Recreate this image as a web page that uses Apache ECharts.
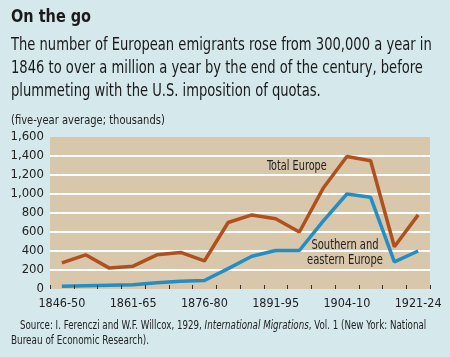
<!DOCTYPE html>
<html>
<head>
<meta charset="utf-8">
<script src="https://cdn.jsdelivr.net/npm/echarts@6/dist/echarts.min.js"></script>
<style>
html,body{margin:0;padding:0;background:#d5e8ec;}
#c{width:450px;height:357px;}
</style>
</head>
<body>
<div id="c"></div>
<script>
var categories = ['1846-50','1851-55','1856-60','1861-65','1866-70','1871-75','1876-80','1881-85','1886-90','1891-95','1896-1900','1901-05','1904-10','1911-15','1916-20','1921-24'];
var totalEurope = [275, 360, 220, 240, 360, 385, 295, 700, 780, 740, 600, 1060, 1395, 1350, 445, 780];
var southernEastern = [28, 35, 40, 45, 65, 82, 90, 215, 345, 405, 405, 715, 1000, 965, 285, 400];
var yTicks = [0, 200, 400, 600, 800, 1000, 1200, 1400, 1600];

var FONT = '"DejaVu Sans Condensed","DejaVu Sans",sans-serif';
var chart = echarts.init(document.getElementById('c'), null, {renderer:'canvas'});
var gridColors = yTicks.map(function(v, i){ return (i === 0 || i === yTicks.length - 1) ? 'rgba(0,0,0,0)' : '#ffffff'; });

chart.setOption({
  backgroundColor: '#d5e8ec',
  animation: false,
  grid: {left: 50, right: 20, top: 137, height: 152, show: true, backgroundColor: '#d9c7ab', borderWidth: 0},
  xAxis: {
    type: 'category', data: categories, boundaryGap: true, z: 10,
    axisLine: {show: false},
    axisTick: {show: true, inside: true, length: 4, interval: 0, lineStyle: {color: '#333', width: 1}},
    axisLabel: {interval: 0, color: '#222', fontFamily: FONT, fontSize: 12.5, margin: 8,
      formatter: function(v, i){ return (i % 3 === 0) ? v : ''; }},
    splitLine: {show: false}
  },
  yAxis: {
    type: 'value', min: yTicks[0], max: yTicks[yTicks.length-1], interval: 200,
    axisLine: {show: false}, axisTick: {show: false},
    axisLabel: {color: '#222', fontFamily: FONT, fontSize: 13, margin: 6,
      formatter: function(v){ return v.toLocaleString('en-US'); }},
    splitLine: {show: true, lineStyle: {color: gridColors, width: 2}}
  },
  series: [
    {type: 'line', name: 'Total Europe', data: totalEurope, symbol: 'none',
     lineStyle: {color: '#b0501e', width: 3.5}, z: 3},
    {type: 'line', name: 'Southern and eastern Europe', data: southernEastern, symbol: 'none',
     lineStyle: {color: '#228ec3', width: 3.5}, z: 4}
  ],
  graphic: [
    {type: 'text', x: 11, y: 8, scaleX: 0.87, style: {text: 'On the go', font: 'bold 18.5px ' + FONT, fill: '#1a1a1a', textAlign: 'left', textVerticalAlign: 'top'}},
    {type: 'text', x: 11, y: 34, scaleX: 0.833, style: {text: 'The number of European emigrants rose from 300,000 a year in\n1846 to over a million a year by the end of the century, before\nplummeting with the U.S. imposition of quotas.', font: '17.5px ' + FONT, fill: '#1a1a1a', lineHeight: 23, textAlign: 'left', textVerticalAlign: 'top'}},
    {type: 'text', x: 11, y: 114, scaleX: 0.885, style: {text: '(five-year average; thousands)', font: '12.5px ' + FONT, fill: '#222', textAlign: 'left', textVerticalAlign: 'top'}},
    {type: 'text', x: 267, y: 159, scaleX: 0.8, style: {text: 'Total Europe', font: '13.5px ' + FONT, fill: '#222', textAlign: 'left', textVerticalAlign: 'top'}},
    {type: 'text', x: 345, y: 238, scaleX: 0.82, style: {text: 'Southern and\neastern Europe', font: '13.5px ' + FONT, fill: '#222', textAlign: 'center', textVerticalAlign: 'top', lineHeight: 15}},
    {type: 'text', x: 20, y: 320, scaleX: 0.842, style: {rich: {n: {font: '11.5px ' + FONT, fill: '#222'}, i: {font: 'italic 11.5px ' + FONT, fill: '#222'}},
      text: '{n|Source: I. Ferenczi and W.F. Willcox, 1929, }{i|International Migrations}{n|, Vol. 1 (New York: National}', textAlign: 'left', textVerticalAlign: 'top'}},
    {type: 'text', x: 11, y: 335, scaleX: 0.855, style: {text: 'Bureau of Economic Research).', font: '11.5px ' + FONT, fill: '#222', textAlign: 'left', textVerticalAlign: 'top'}}
  ]
});
</script>
</body>
</html>
